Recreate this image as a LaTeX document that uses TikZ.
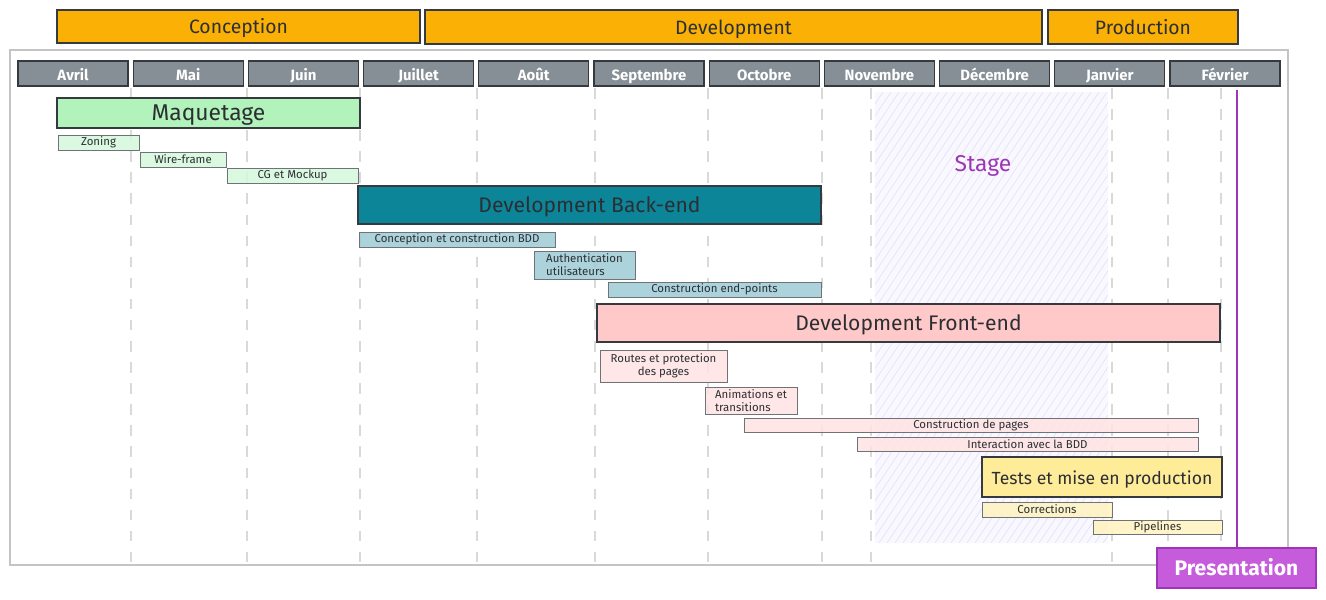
\documentclass[tikz,border=0pt]{standalone}
\usepackage{fontspec}
\setmainfont{Fira Sans}

\definecolor{phasefill}{HTML}{FAB005}
\definecolor{barline}{HTML}{343A40}
\definecolor{monthfill}{HTML}{868E96}
\definecolor{maqfill}{HTML}{B2F2BB}
\definecolor{maqsub}{HTML}{D5F7DC}
\definecolor{backfill}{HTML}{0C8599}
\definecolor{backsub}{HTML}{9DCBD5}
\definecolor{frontfill}{HTML}{FFC9C9}
\definecolor{frontsub}{HTML}{FFE3E3}
\definecolor{testfill}{HTML}{FFEC99}
\definecolor{testsub}{HTML}{FFF3BF}
\definecolor{presfill}{HTML}{C65BDB}
\definecolor{presline}{HTML}{9C36B5}
\definecolor{stagefill}{HTML}{F9F8FF}
\definecolor{stagehatch}{HTML}{E3E0F8}
\definecolor{gridline}{HTML}{D9D9D9}
\definecolor{frameline}{HTML}{C4C4C4}
\definecolor{subline}{HTML}{6E7378}
\definecolor{textdark}{HTML}{2B2F33}

\tikzset{
  bar/.style={draw=barline, line width=0.7pt, inner sep=0pt, text=textdark,
    text height=0.9em, text depth=0.1em},
  phase/.style={bar, fill=phasefill, font=\fontsize{11}{13}\selectfont},
  month/.style={bar, fill=monthfill, text=white, font=\bfseries\fontsize{8.5}{10}\selectfont},
  big/.style={bar, font=\fontsize{12}{14}\selectfont},
  sub/.style={draw=subline, line width=0.4pt, inner sep=0pt, text=textdark,
    fill opacity=0.85, text opacity=1, font=\fontsize{6.5}{7.5}\selectfont, align=center},
  grid/.style={gridline, line width=0.6pt, dash pattern=on 6pt off 6pt},
}

% bar from (x1,y1) to (x2,y2), in pixels
\newcommand\gbar[7]{% style, name, x1, y1, x2, y2, text
  \node[#1, minimum width={(#5-#3)*0.02cm}, minimum height={(#6-#4)*0.02cm}]
    (#2) at ({(#3+#5)/2},{(#4+#6)/2}) {#7};}

\begin{document}
\begin{tikzpicture}[x=0.02cm, y=-0.02cm]
   \useasboundingbox (0,0) rectangle (1326,599);

   % frame and stage period
   \draw[frameline, line width=0.8pt] (10,50) rectangle (1288,565);
   \fill[stagefill] (875,92) rectangle (1108,543);
   \begin{scope}
     \clip (875,92) rectangle (1108,543);
     \foreach \k in {575,583,...,1110}
       \draw[stagehatch, line width=0.35pt] (\k,543) -- (\k+300,92);
   \end{scope}
   \node[text=presline, font=\fontsize{13}{15}\selectfont] (stage) at (983,166) {Stage};

   % month separators
   \foreach \x in {131,247,360,477,595,708,822,871,1112,1168,1221}
     \draw[grid] (\x,88) -- (\x,565);

   % phases
   \gbar{phase}{conception}{57}{10}{420}{43}{Conception}
   \gbar{phase}{development}{425}{10}{1042}{44}{Development}
   \gbar{phase}{production}{1048}{10}{1238}{44}{Production}

   % months
   \foreach \name [count=\i from 0] in {Avril,Mai,Juin,Juillet,Août,Septembre,Octobre,Novembre,Décembre,Janvier,Février}{
     \pgfmathsetmacro\xa{18+115.2*\i}
     \pgfmathsetmacro\xb{128+115.2*\i}
     \gbar{month}{m\i}{\xa}{61}{\xb}{86}{\name}
   }

   % maquetage
   \gbar{big, fill=maqfill, font=\fontsize{13}{15}\selectfont}{maquetage}{57}{98}{360}{128}{Maquetage}
   \gbar{sub, fill=maqsub}{zoning}{58}{135}{139}{150}{Zoning}
   \gbar{sub, fill=maqsub}{wireframe}{140}{152}{226}{167}{Wire-frame}
   \gbar{sub, fill=maqsub}{mockup}{227}{168}{358}{183}{CG et Mockup}

   % back-end
   \gbar{big, fill=backfill}{backend}{358}{186}{821}{224}{Development Back-end}
   \gbar{sub, fill=backsub}{bdd}{359}{232}{555}{247}{Conception et construction BDD}
   \gbar{sub, fill=backsub, align=left}{auth}{534}{251}{635}{279}{Authentication\\utilisateurs}
   \gbar{sub, fill=backsub}{endpoints}{608}{282}{821}{297}{Construction end-points}

   % front-end
   \gbar{big, fill=frontfill}{frontend}{597}{304}{1220}{342}{Development Front-end}
   \gbar{sub, fill=frontsub}{routes}{600}{350}{727}{382}{Routes et protection\\des pages}
   \gbar{sub, fill=frontsub, align=left}{anim}{705}{387}{797}{414}{Animations et\\transitions}
   \gbar{sub, fill=frontsub}{pages}{744}{418}{1198}{432}{Construction de pages}
   \gbar{sub, fill=frontsub}{interaction}{857}{437}{1198}{451}{Interaction avec la BDD}

   % tests
   \gbar{big, fill=testfill, font=\fontsize{10}{12}\selectfont}{tests}{982}{457}{1222}{497}{Tests et mise en production}
   \gbar{sub, fill=testsub}{corrections}{982}{502}{1112}{517}{Corrections}
   \gbar{sub, fill=testsub}{pipelines}{1093}{520}{1222}{534}{Pipelines}

   % presentation
   \gbar{bar, draw=presline, fill=presfill, line width=0.8pt, text=white,
     font=\bfseries\fontsize{12}{14}\selectfont}{presentation}{1157}{548}{1316}{588}{Presentation}
   \coordinate (ptop) at (1237,90);
   \draw[presline, line width=0.9pt] (ptop) -- (ptop |- presentation.north);
\end{tikzpicture}
\end{document}
